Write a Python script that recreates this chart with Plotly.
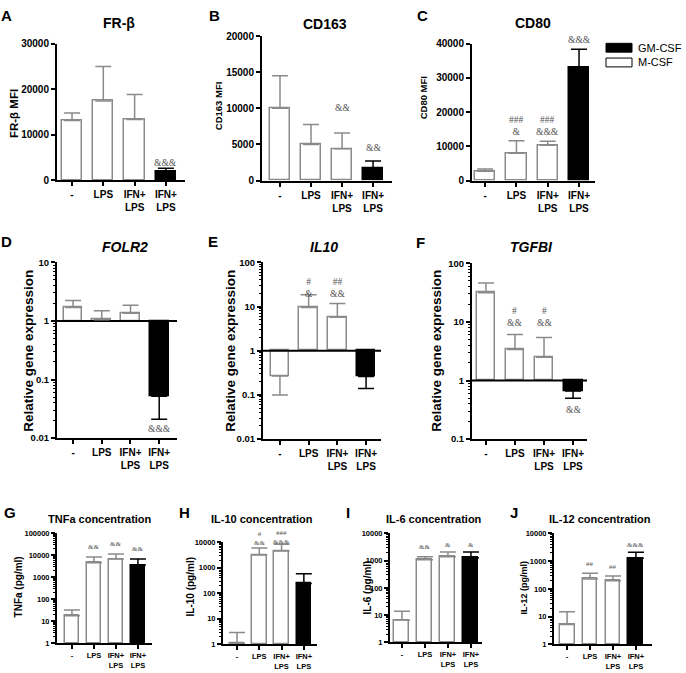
import math
import plotly.graph_objects as go

W, H = 686, 673
FONT = "Liberation Sans, Arial, Helvetica, sans-serif"
SIGFONT = "Liberation Serif, Times New Roman, serif"

# ---------------- data ----------------
groups = ["-", "LPS", "IFN+<br>LPS", "IFN+<br>LPS"]
macrophage_type = ["M-CSF", "M-CSF", "M-CSF", "GM-CSF"]

frb_mean = [13100, 17400, 13300, 1800]
frb_sd = [1650, 7550, 5500, 790]
cd163_mean = [10000, 5000, 4390, 1710]
cd163_sd = [4530, 2770, 2180, 1000]
cd80_mean = [2700, 7960, 10340, 33050]
cd80_sd = [700, 3640, 1160, 5280]

folr2_mean = [1.7, 1.05, 1.36, 0.052]
folr2_sd = [0.54, 0.45, 0.49, 0.031]
il10_mean = [0.27, 9.5, 5.7, 0.26]
il10_sd = [0.17, 9.0, 6.0, 0.12]
tgfbi_mean = [31.6, 3.4, 2.5, 0.66]
tgfbi_sd = [14.5, 2.7, 2.9, 0.16]

tnfa_mean = [18, 4600, 6900, 3700]
tnfa_sd = [15, 3900, 4600, 3200]
il10c_mean = [1.1, 3160, 4500, 240]
il10c_sd = [1.8, 2740, 3800, 350]
il6_mean = [6.6, 1080, 1380, 1270]
il6_sd = [7.4, 300, 720, 830]
il12_mean = [5.2, 230, 195, 1270]
il12_sd = [9.8, 140, 95, 830]

# significance labels: (group index, text, height in data units)
sig_A = [(3, "&&&", 3730)]
sig_B = [(2, "&&", 10060), (3, "&&", 4530)]
sig_C = [(1, "###<br>&", 16000), (2, "###<br>&&&", 16000), (3, "&&&", 41200)]
sig_D = [(3, "&&&", 0.0141)]
sig_E = [(1, "#<br>&", 25.7), (2, "##<br>&&", 25.7)]
sig_F = [(1, "#<br>&&", 12.1), (2, "#<br>&&", 12.1), (3, "&&", 0.316)]
sig_G = [(1, "&&", 23700), (2, "&&", 32400), (3, "&&", 19500)]
sig_H = [(1, "#<br>&&", 13500), (2, "###<br>&&&", 15000)]
sig_I = [(1, "&&", 3160), (2, "&", 3700), (3, "&", 3700)]
sig_J = [(1, "##", 780), (2, "##", 620), (3, "&&&", 3700)]

ticks_A = [0, 10000, 20000, 30000]
ticks_B = [0, 5000, 10000, 15000, 20000]
ticks_C = [0, 10000, 20000, 30000, 40000]
ticks_D = [0.01, 0.1, 1, 10]
ticks_E = [0.01, 0.1, 1, 10, 100]
ticks_F = [0.1, 1, 10, 100]
ticks_G = [1, 10, 100, 1000, 10000, 100000]
ticks_HIJ = [1, 10, 100, 1000, 10000]

# ---------------- layout helpers ----------------
def px(p):
    return p / W

def py(p):
    return 1 - p / H

panels = [
    dict(letter="A", x0=57, x1=185, yt=38.3, yb=177.3, xr=[-0.48, 3.61], log=False, base=0,
         mean=frb_mean, sd=frb_sd, ticks=ticks_A, sig=sig_A,
         title="FR-β", tpos=(119, 17), tsize=14, ital=False,
         ytitle="FR-β MFI", ypos=(14, 109), ysize=11.5, lpos=(7, 10),
         tfs=10, xfs=10, sfs=9.5),
    dict(letter="B", x0=262, x1=392, yt=30.7, yb=177.7, xr=[-0.58, 3.61], log=False, base=0,
         mean=cd163_mean, sd=cd163_sd, ticks=ticks_B, sig=sig_B,
         title="CD163", tpos=(325, 18), tsize=14, ital=False,
         ytitle="CD163 MFI", ypos=(218, 102), ysize=9.5, lpos=(214, 10),
         tfs=10, xfs=10, sfs=9.5),
    dict(letter="C", x0=472, x1=595, yt=38.3, yb=177.7, xr=[-0.42, 3.51], log=False, base=0,
         mean=cd80_mean, sd=cd80_sd, ticks=ticks_C, sig=sig_C,
         title="CD80", tpos=(533, 17), tsize=14, ital=False,
         ytitle="CD80 MFI", ypos=(423, 94), ysize=9.5, lpos=(422, 10),
         tfs=10, xfs=10, sfs=9.5),
    dict(letter="D", x0=57, x1=177, yt=261, yb=440, xr=[-0.56, 3.62], log=True, base=1,
         mean=folr2_mean, sd=folr2_sd, ticks=ticks_D, sig=sig_D,
         title="FOLR2", tpos=(125, 245), tsize=14, ital=True,
         ytitle="Relative gene expression", ypos=(29, 351), ysize=13.5, lpos=(7, 240),
         tfs=9.5, xfs=10, sfs=9.5),
    dict(letter="E", x0=263, x1=381, yt=261, yb=441, xr=[-0.59, 3.52], log=True, base=1,
         mean=il10_mean, sd=il10_sd, ticks=ticks_E, sig=sig_E,
         title="IL10", tpos=(324, 245), tsize=14, ital=True,
         ytitle="Relative gene expression", ypos=(231, 351), ysize=13.5, lpos=(213, 240),
         tfs=9.5, xfs=10, sfs=9.5),
    dict(letter="F", x0=472, x1=587, yt=262, yb=441, xr=[-0.48, 3.48], log=True, base=1,
         mean=tgfbi_mean, sd=tgfbi_sd, ticks=ticks_F, sig=sig_F,
         title="TGFBI", tpos=(531, 245), tsize=14, ital=True,
         ytitle="Relative gene expression", ypos=(437, 351), ysize=13.5, lpos=(421, 241),
         tfs=9.5, xfs=10, sfs=9.5),
    dict(letter="G", x0=57, x1=152, yt=537, yb=649, xr=[-0.68, 3.64], log=True, base=1,
         mean=tnfa_mean, sd=tnfa_sd, ticks=ticks_G, sig=sig_G,
         title="TNFa concentration", tpos=(100, 522), tsize=11, ital=False,
         ytitle="TNFa (pg/ml)", ypos=(18, 592), ysize=10, lpos=(10, 516),
         tfs=7.5, xfs=7.5, sfs=7),
    dict(letter="H", x0=223, x1=317, yt=546, yb=650, xr=[-0.63, 3.59], log=True, base=1,
         mean=il10c_mean, sd=il10c_sd, ticks=ticks_HIJ, sig=sig_H,
         title="IL-10 concentration", tpos=(262, 522), tsize=11, ital=False,
         ytitle="IL-10 (pg/ml)", ypos=(190, 592), ysize=10, lpos=(184, 516),
         tfs=7.5, xfs=7.5, sfs=7),
    dict(letter="I", x0=390, x1=482, yt=537, yb=648, xr=[-0.52, 3.48], log=True, base=1,
         mean=il6_mean, sd=il6_sd, ticks=ticks_HIJ, sig=sig_I,
         title="IL-6 concentration", tpos=(434, 522), tsize=11, ital=False,
         ytitle="IL-6 (pg/ml)", ypos=(367, 592), ysize=10, lpos=(348, 516),
         tfs=7.5, xfs=7.5, sfs=7),
    dict(letter="J", x0=554, x1=652, yt=537, yb=650, xr=[-0.57, 3.7], log=True, base=1,
         mean=il12_mean, sd=il12_sd, ticks=ticks_HIJ, sig=sig_J,
         title="IL-12 concentration", tpos=(600, 522), tsize=11, ital=False,
         ytitle="IL-12 (pg/ml)", ypos=(524, 592), ysize=9, lpos=(514, 516),
         tfs=7.5, xfs=7.5, sfs=7),
]

fill_of = {"M-CSF": "white", "GM-CSF": "black"}
edge_of = {"M-CSF": "#8a8a8a", "GM-CSF": "black"}

fig = go.Figure()
annotations = []
shapes = []
layout_axes = {}

for k, p in enumerate(panels, start=1):
    xa = "x" if k == 1 else f"x{k}"
    ya = "y" if k == 1 else f"y{k}"
    xkey = "xaxis" if k == 1 else f"xaxis{k}"
    ykey = "yaxis" if k == 1 else f"yaxis{k}"
    xs = list(range(len(groups)))
    base = p["base"]

    fig.add_trace(go.Bar(
        x=xs, y=[m - base for m in p["mean"]], base=[base] * len(xs),
        width=0.65, xaxis=xa, yaxis=ya, showlegend=False,
        marker=dict(color=[fill_of[t] for t in macrophage_type],
                    line=dict(color=[edge_of[t] for t in macrophage_type], width=1.5)),
        hoverinfo="skip",
    ))

    if p["log"] and k in (4, 5, 6):
        fig.add_trace(go.Scatter(
            x=p["xr"], y=[1, 1], mode="lines", xaxis=xa, yaxis=ya,
            line=dict(color="black", width=2), showlegend=False, hoverinfo="skip",
        ))

    for i, (m, s) in enumerate(zip(p["mean"], p["sd"])):
        down = m < base
        fig.add_trace(go.Scatter(
            x=[i], y=[m], mode="markers", xaxis=xa, yaxis=ya, showlegend=False,
            marker=dict(size=1, opacity=0), hoverinfo="skip", cliponaxis=False,
            error_y=dict(type="data", symmetric=False,
                         array=[0 if down else s], arrayminus=[s if down else 0],
                         color=edge_of[macrophage_type[i]], thickness=1.5, width=8),
        ))

    ticks = p["ticks"]
    if p["log"]:
        yrange = [math.log10(ticks[0]), math.log10(ticks[-1])]
    else:
        yrange = [ticks[0], ticks[-1]]
    yax = dict(
        domain=[py(p["yb"]), py(p["yt"])], anchor=xa,
        type="log" if p["log"] else "linear", range=yrange,
        tickmode="array", tickvals=ticks, ticktext=[f"{t:g}" for t in ticks],
        ticks="outside", ticklen=4, tickwidth=1.5, tickcolor="black",
        showline=True, linewidth=2, linecolor="black", showgrid=False, zeroline=False,
        tickfont=dict(family=FONT, size=p["tfs"], color="black", weight="bold"),
    )
    if p["log"]:
        yax["minor"] = dict(ticks="outside", ticklen=2, tickwidth=1, tickcolor="black",
                            dtick="D1", showgrid=False)
    layout_axes[ykey] = yax
    layout_axes[xkey] = dict(
        domain=[px(p["x0"]), px(p["x1"])], anchor=ya, range=p["xr"],
        tickmode="array", tickvals=xs, ticktext=groups,
        ticks="outside", ticklen=4, tickwidth=1.5, tickcolor="black",
        showline=True, linewidth=2, linecolor="black", showgrid=False, zeroline=False,
        tickfont=dict(family=FONT, size=p["xfs"], color="black", weight="bold"),
    )

    # significance labels (positioned as fraction of the y-axis domain so that
    # labels above the axis top are still drawn)
    for (i, txt, val) in p["sig"]:
        if p["log"]:
            frac = (math.log10(val) - yrange[0]) / (yrange[1] - yrange[0])
        else:
            frac = (val - yrange[0]) / (yrange[1] - yrange[0])
        annotations.append(dict(
            x=i, y=frac, xref=xa, yref=f"{ya} domain",
            text=txt, showarrow=False, xanchor="center", yanchor="middle",
            font=dict(family=SIGFONT, size=p["sfs"], color="#555555"),
        ))

    # panel letter
    annotations.append(dict(
        x=px(p["lpos"][0]), y=py(p["lpos"][1]), xref="paper", yref="paper",
        text=f"<b>{p['letter']}</b>", showarrow=False, xanchor="center", yanchor="middle",
        font=dict(family=FONT, size=15, color="black"),
    ))
    # title
    ttxt = f"<b><i>{p['title']}</i></b>" if p["ital"] else f"<b>{p['title']}</b>"
    annotations.append(dict(
        x=px(p["tpos"][0]), y=py(p["tpos"][1]), xref="paper", yref="paper",
        text=ttxt, showarrow=False, xanchor="center", yanchor="middle",
        font=dict(family=FONT, size=p["tsize"], color="black"),
    ))
    # y-axis title
    annotations.append(dict(
        x=px(p["ypos"][0]), y=py(p["ypos"][1]), xref="paper", yref="paper",
        text=f"<b>{p['ytitle']}</b>", showarrow=False, xanchor="center", yanchor="middle",
        textangle=-90, font=dict(family=FONT, size=p["ysize"], color="black"),
    ))

# legend (drawn manually)
legend_items = ["GM-CSF", "M-CSF"]
legend_rows = [(38, 47), (53, 62)]
for name, (t, b) in zip(legend_items, legend_rows):
    shapes.append(dict(type="rect", xref="paper", yref="paper",
                       x0=px(606), x1=px(632), y0=py(b), y1=py(t),
                       fillcolor=fill_of[name], line=dict(color="black", width=1)))
    annotations.append(dict(x=px(636), y=py((t + b) / 2), xref="paper", yref="paper",
                            text=name, showarrow=False, xanchor="left", yanchor="middle",
                            font=dict(family=FONT, size=11, color="black")))

fig.update_layout(
    width=W, height=H, margin=dict(l=0, r=0, t=0, b=0),
    paper_bgcolor="white", plot_bgcolor="white",
    showlegend=False, bargap=0,
    annotations=annotations, shapes=shapes,
    font=dict(family=FONT, color="black"),
    **layout_axes,
)

fig.write_html("out.html",
               config={"displayModeBar": False},
               post_script="document.body.style.margin='0';document.body.style.overflow='hidden';")
